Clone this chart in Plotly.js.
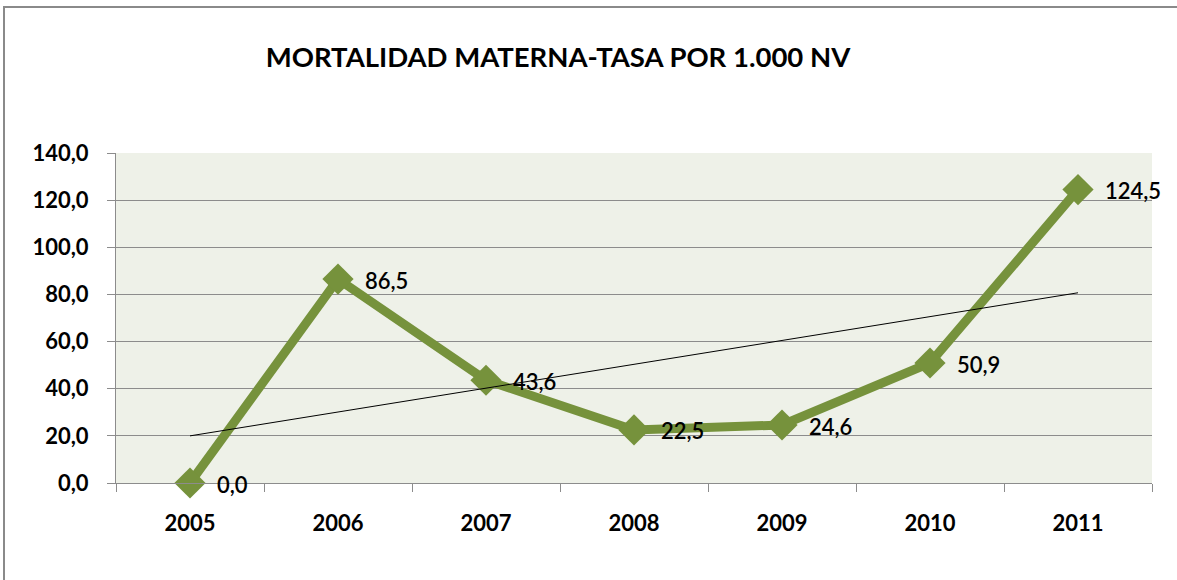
<!DOCTYPE html>
<html>
<head>
<meta charset="utf-8">
<script src="https://cdn.plot.ly/plotly-3.0.1.min.js"></script>
<style>
  html, body { margin: 0; padding: 0; background: #ffffff; }
  #wrap { position: relative; width: 1177px; height: 580px; overflow: hidden; }
  #chart { position: absolute; left: 0; top: 0; width: 1177px; height: 580px; }
  #frame { position: absolute; left: 3px; top: 6px; width: 1200px; height: 600px;
           border-left: 2px solid #8a8a8a; border-top: 2px solid #8a8a8a; pointer-events: none; }
</style>
</head>
<body>
<div id="wrap">
  <div id="chart"></div>
  <div id="frame"></div>
</div>
<script>
const years = ['2005', '2006', '2007', '2008', '2009', '2010', '2011'];
const rates = [0.0, 86.5, 43.6, 22.5, 24.6, 50.9, 124.5];
// linear trendline end points
const trendYears = ['2005', '2011'];
const trendValues = [20.0, 80.7];
const yTicks = [0, 20, 40, 60, 80, 100, 120, 140];

const FONT = 'Lato, "Open Sans", sans-serif';

const traces = [
  {
    type: 'scatter',
    mode: 'lines+markers',
    x: years,
    y: rates,
    line: { color: '#76923c', width: 9 },
    marker: { symbol: 'diamond', size: 24, color: '#76923c' },
    cliponaxis: false,
    hoverinfo: 'skip',
    showlegend: false
  },
  {
    type: 'scatter',
    mode: 'lines',
    x: trendYears,
    y: trendValues,
    line: { color: '#000000', width: 1 },
    hoverinfo: 'skip',
    showlegend: false
  }
];

// data labels: x given as category index (numeric-looking category names)
const labels = years.map((yr, i) => ({
  x: years.indexOf(yr),
  y: rates[i],
  xref: 'x',
  yref: 'y',
  text: rates[i].toFixed(1).replace('.', ','),
  showarrow: false,
  xanchor: 'left',
  yanchor: 'middle',
  xshift: 25,
  yshift: -1,
  font: { family: FONT, size: 22, color: '#000000', weight: 600 }
}));

const layout = {
  width: 1177,
  height: 580,
  paper_bgcolor: 'rgba(0,0,0,0)',
  plot_bgcolor: '#eef1e8',
  separators: ',.',
  margin: { l: 116, r: 25, t: 153, b: 97, pad: 0 },
  showlegend: false,
  title: {
    text: 'MORTALIDAD MATERNA-TASA POR 1.000 NV',
    font: { family: FONT, size: 27.5, color: '#000000', weight: 700 },
    x: 558 / 1177,
    xanchor: 'center',
    xref: 'container',
    y: 1 - 57 / 580,
    yanchor: 'middle',
    yref: 'container'
  },
  xaxis: {
    type: 'category',
    categoryorder: 'array',
    categoryarray: years,
    range: [-0.5, 6.5],
    showgrid: false,
    zeroline: false,
    showline: true,
    linecolor: '#8c8c8c',
    linewidth: 1,
    ticks: 'outside',
    tickson: 'boundaries',
    ticklen: 8,
    tickcolor: '#8c8c8c',
    tickfont: { family: FONT, size: 22, color: '#000000', weight: 700 },
    ticklabelstandoff: 21,
    fixedrange: true
  },
  yaxis: {
    range: [0, 140],
    tickvals: yTicks,
    tickformat: '.1f',
    showgrid: true,
    gridcolor: '#8c8c8c',
    gridwidth: 1,
    zeroline: false,
    showline: true,
    linecolor: '#8c8c8c',
    linewidth: 1,
    ticks: 'outside',
    ticklen: 8,
    tickcolor: '#8c8c8c',
    tickfont: { family: FONT, size: 22, color: '#000000', weight: 700 },
    ticklabelstandoff: 14,
    fixedrange: true
  },
  annotations: labels
};

Plotly.newPlot('chart', traces, layout, { displayModeBar: false, staticPlot: true });
</script>
</body>
</html>
